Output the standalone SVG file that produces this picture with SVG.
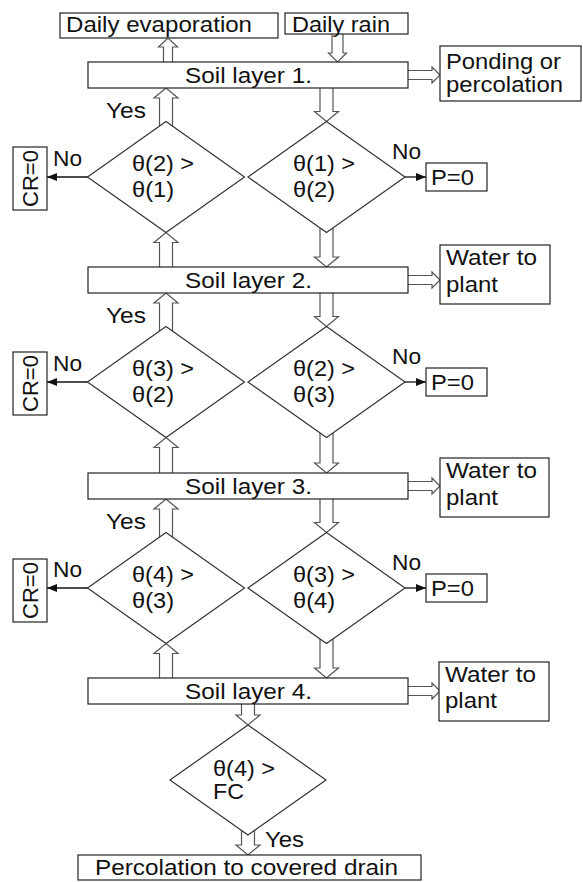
<svg xmlns="http://www.w3.org/2000/svg" width="583" height="882" viewBox="0 0 583 882">
<style>
text{font-family:"Liberation Sans",Arial,sans-serif;font-size:22px;fill:#111}
.box{fill:#fff;stroke:#222;stroke-width:1.2}
.dia{fill:#fff;stroke:#333;stroke-width:1.2}
.hol{fill:#fff;stroke:#555;stroke-width:1.2;stroke-linejoin:miter}
.no{stroke:#111;stroke-width:1.3;fill:none;marker-end:url(#ah)}
</style>
<defs>
<marker id="ah" markerUnits="userSpaceOnUse" markerWidth="10" markerHeight="8" refX="10" refY="4" orient="auto">
<path d="M0,0 L10,4 L0,8 z" fill="#111"/>
</marker>
</defs>
<rect width="583" height="882" fill="#fff"/>
<g id="connectors">
<path class="hol" d="M163.5,62 V47 H158.5 L168,38 L177.5,47 H172.5 V62"/>
<path class="hol" d="M332,34 V53 H328.5 L337.5,62 L346.5,53 H343 V34"/>
<path class="hol" d="M408,70.5 H432 V67 L440,75 L432,83 V79.5 H408"/>
<path class="hol" d="M408,275.5 H432 V272 L440,280 L432,288 V284.5 H408"/>
<path class="hol" d="M408,481.5 H432 V478 L440,486 L432,494 V490.5 H408"/>
<path class="hol" d="M408,686.5 H432 V683 L440,691 L432,699 V695.5 H408"/>
<path class="hol" d="M320,88 V111.5 H314.5 L326.5,121.5 L338.5,111.5 H333 V88"/>
<path class="hol" d="M320,227 V257 H314.5 L326.5,267 L338.5,257 H333 V227"/>
<path class="hol" d="M320,293 V316.5 H314.5 L326.5,326.5 L338.5,316.5 H333 V293"/>
<path class="hol" d="M320,432 V463 H314.5 L326.5,473 L338.5,463 H333 V432"/>
<path class="hol" d="M320,499 V522.5 H314.5 L326.5,532.5 L338.5,522.5 H333 V499"/>
<path class="hol" d="M320,638 V668 H314.5 L326.5,678 L338.5,668 H333 V638"/>
<path class="hol" d="M159.5,127 V98 H154 L166,88 L178,98 H172.5 V127"/>
<path class="hol" d="M159.5,267 V242.5 H154 L166,232.5 L178,242.5 H172.5 V267"/>
<path class="hol" d="M159.5,332 V303 H154 L166,293 L178,303 H172.5 V332"/>
<path class="hol" d="M159.5,473 V447.5 H154 L166,437.5 L178,447.5 H172.5 V473"/>
<path class="hol" d="M159.5,538 V509 H154 L166,499 L178,509 H172.5 V538"/>
<path class="hol" d="M159.5,678 V653.5 H154 L166,643.5 L178,653.5 H172.5 V678"/>
<path class="hol" d="M241.5,704 V715 H236 L248,725 L260,715 H254.5 V704"/>
<path class="hol" d="M241.5,830 V845 H236 L248,855 L260,845 H254.5 V830"/>
<line class="no" x1="88" y1="177" x2="47" y2="177"/>
<line class="no" x1="88" y1="382" x2="47" y2="382"/>
<line class="no" x1="88" y1="588" x2="47" y2="588"/>
<line class="no" x1="405" y1="177" x2="426" y2="177"/>
<line class="no" x1="405" y1="382" x2="426" y2="382"/>
<line class="no" x1="405" y1="588" x2="426" y2="588"/>
<text x="106" y="118" textLength="40" lengthAdjust="spacingAndGlyphs">Yes</text>
<text x="106" y="323" textLength="40" lengthAdjust="spacingAndGlyphs">Yes</text>
<text x="106" y="529" textLength="40" lengthAdjust="spacingAndGlyphs">Yes</text>
<text x="265" y="847" textLength="39" lengthAdjust="spacingAndGlyphs">Yes</text>
<text x="53" y="166" textLength="29" lengthAdjust="spacingAndGlyphs">No</text>
<text x="53" y="371" textLength="29" lengthAdjust="spacingAndGlyphs">No</text>
<text x="53" y="577" textLength="29" lengthAdjust="spacingAndGlyphs">No</text>
<text x="392" y="159" textLength="29" lengthAdjust="spacingAndGlyphs">No</text>
<text x="392" y="364" textLength="29" lengthAdjust="spacingAndGlyphs">No</text>
<text x="392" y="570" textLength="29" lengthAdjust="spacingAndGlyphs">No</text>
</g>
<g id="evap"><rect class="box" x="60" y="13" width="218" height="25"/><text x="66" y="32" textLength="186" lengthAdjust="spacingAndGlyphs">Daily evaporation</text></g>
<g id="rain"><rect class="box" x="285" y="13" width="123" height="21"/><text x="292" y="32" textLength="98" lengthAdjust="spacingAndGlyphs">Daily rain</text></g>
<g id="soil1"><rect class="box" x="88" y="62" width="320" height="26"/><text x="185" y="83" textLength="127" lengthAdjust="spacingAndGlyphs">Soil layer 1.</text></g>
<g id="soil2"><rect class="box" x="88" y="267" width="320" height="26"/><text x="185" y="288" textLength="127" lengthAdjust="spacingAndGlyphs">Soil layer 2.</text></g>
<g id="soil3"><rect class="box" x="88" y="473" width="320" height="26"/><text x="185" y="494" textLength="127" lengthAdjust="spacingAndGlyphs">Soil layer 3.</text></g>
<g id="soil4"><rect class="box" x="88" y="678" width="320" height="26"/><text x="185" y="699" textLength="127" lengthAdjust="spacingAndGlyphs">Soil layer 4.</text></g>
<g id="ponding"><rect class="box" x="440" y="46" width="141" height="55"/><text x="446" y="69" textLength="115" lengthAdjust="spacingAndGlyphs">Ponding or</text><text x="446" y="92" textLength="117" lengthAdjust="spacingAndGlyphs">percolation</text></g>
<g id="water2"><rect class="box" x="440" y="245" width="110" height="59"/><text x="446" y="265" textLength="91" lengthAdjust="spacingAndGlyphs">Water to</text><text x="446" y="292" textLength="52" lengthAdjust="spacingAndGlyphs">plant</text></g>
<g id="water3"><rect class="box" x="440" y="458" width="109" height="59"/><text x="446" y="478" textLength="91" lengthAdjust="spacingAndGlyphs">Water to</text><text x="446" y="505" textLength="52" lengthAdjust="spacingAndGlyphs">plant</text></g>
<g id="water4"><rect class="box" x="439" y="662" width="110" height="59"/><text x="445" y="682" textLength="91" lengthAdjust="spacingAndGlyphs">Water to</text><text x="445" y="708" textLength="52" lengthAdjust="spacingAndGlyphs">plant</text></g>
<g id="d21"><polygon class="dia" points="166,121.5 244.5,177 166,232.5 87.5,177"/><text x="132" y="170.5" textLength="62" lengthAdjust="spacingAndGlyphs">θ(2) &gt;</text><text x="132" y="197" textLength="42" lengthAdjust="spacingAndGlyphs">θ(1)</text></g>
<g id="d12"><polygon class="dia" points="326.5,121.5 405,177 326.5,232.5 248,177"/><text x="293" y="170.5" textLength="62" lengthAdjust="spacingAndGlyphs">θ(1) &gt;</text><text x="293" y="197" textLength="42" lengthAdjust="spacingAndGlyphs">θ(2)</text></g>
<g id="d32"><polygon class="dia" points="166,326.5 244.5,382 166,437.5 87.5,382"/><text x="132" y="375.5" textLength="62" lengthAdjust="spacingAndGlyphs">θ(3) &gt;</text><text x="132" y="402" textLength="42" lengthAdjust="spacingAndGlyphs">θ(2)</text></g>
<g id="d23"><polygon class="dia" points="326.5,326.5 405,382 326.5,437.5 248,382"/><text x="293" y="375.5" textLength="62" lengthAdjust="spacingAndGlyphs">θ(2) &gt;</text><text x="293" y="402" textLength="42" lengthAdjust="spacingAndGlyphs">θ(3)</text></g>
<g id="d43"><polygon class="dia" points="166,532.5 244.5,588 166,643.5 87.5,588"/><text x="132" y="581.5" textLength="62" lengthAdjust="spacingAndGlyphs">θ(4) &gt;</text><text x="132" y="608" textLength="42" lengthAdjust="spacingAndGlyphs">θ(3)</text></g>
<g id="d34"><polygon class="dia" points="326.5,532.5 405,588 326.5,643.5 248,588"/><text x="293" y="581.5" textLength="62" lengthAdjust="spacingAndGlyphs">θ(3) &gt;</text><text x="293" y="608" textLength="42" lengthAdjust="spacingAndGlyphs">θ(4)</text></g>
<g id="dfc"><polygon class="dia" points="248,725 326,780 248,835 170,780"/><text x="213" y="776" textLength="62" lengthAdjust="spacingAndGlyphs">θ(4) &gt;</text><text x="213" y="799" textLength="31" lengthAdjust="spacingAndGlyphs">FC</text></g>
<g id="cr1"><rect class="box" x="13" y="147" width="34" height="63"/><text transform="translate(37.5,178.5) rotate(-90)" text-anchor="middle">CR=0</text></g>
<g id="cr2"><rect class="box" x="13" y="352" width="34" height="63"/><text transform="translate(37.5,383.5) rotate(-90)" text-anchor="middle">CR=0</text></g>
<g id="cr3"><rect class="box" x="13" y="559" width="34" height="63"/><text transform="translate(37.5,590.5) rotate(-90)" text-anchor="middle">CR=0</text></g>
<g id="p1"><rect class="box" x="426" y="163" width="61" height="28"/><text x="431" y="184.5" textLength="43" lengthAdjust="spacingAndGlyphs">P=0</text></g>
<g id="p2"><rect class="box" x="426" y="368" width="61" height="28"/><text x="431" y="389.5" textLength="43" lengthAdjust="spacingAndGlyphs">P=0</text></g>
<g id="p3"><rect class="box" x="426" y="574" width="61" height="28"/><text x="431" y="595.5" textLength="43" lengthAdjust="spacingAndGlyphs">P=0</text></g>
<g id="perc"><rect class="box" x="78" y="855" width="343" height="25"/><text x="95" y="875" textLength="303" lengthAdjust="spacingAndGlyphs">Percolation to covered drain</text></g>
</svg>
